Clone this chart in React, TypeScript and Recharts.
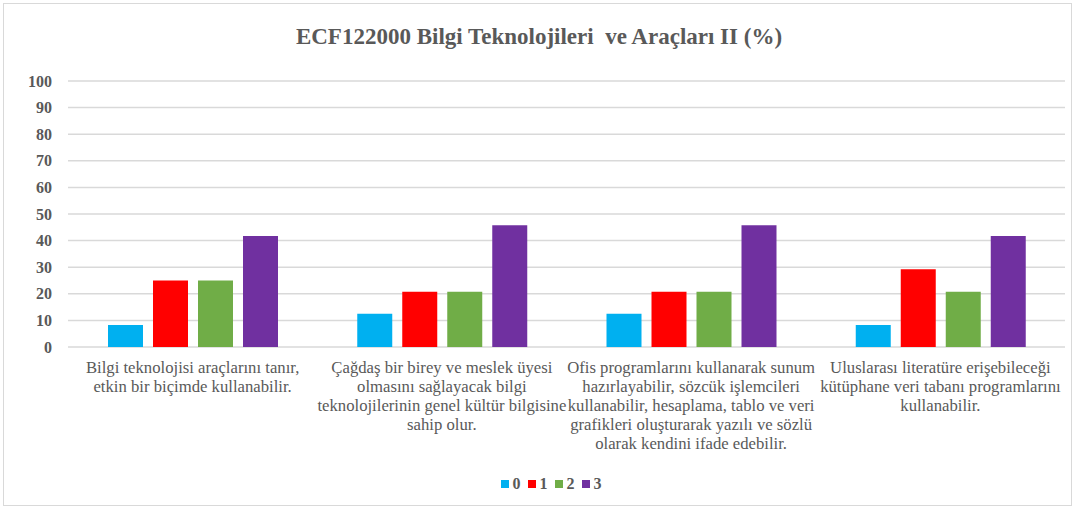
import { BarChart, Bar, XAxis, YAxis, CartesianGrid, Legend } from "recharts";

document.body.style.margin = "0";

const categories = [
  "Bilgi teknolojisi araçlarını tanır,\netkin bir biçimde kullanabilir.",
  "Çağdaş bir birey ve meslek üyesi\nolmasını sağlayacak bilgi\nteknolojilerinin genel kültür bilgisine\nsahip olur.",
  "Ofis programlarını kullanarak sunum\nhazırlayabilir, sözcük işlemcileri\nkullanabilir, hesaplama, tablo ve veri\ngrafikleri oluşturarak yazılı ve sözlü\nolarak kendini ifade edebilir.",
  "Uluslarası literatüre erişebileceği\nkütüphane veri tabanı programlarını\nkullanabilir.",
];
const series0 = [8.3, 12.5, 12.5, 8.3];
const series1 = [25, 20.8, 20.8, 29.2];
const series2 = [25, 20.8, 20.8, 20.8];
const series3 = [41.7, 45.8, 45.8, 41.7];
const yTicks = [0, 10, 20, 30, 40, 50, 60, 70, 80, 90, 100];

const seriesKeys = ["0", "1", "2", "3"];
const COLORS = ["#00b0f0", "#ff0000", "#70ad47", "#7030a0"];

const data = categories.map((name, i) => ({
  name,
  "0": series0[i],
  "1": series1[i],
  "2": series2[i],
  "3": series3[i],
}));

const FONT = "'Liberation Serif', 'Times New Roman', serif";
const TEXT = "#595959";

function CategoryTick(props: any) {
  const { x, y, payload } = props;
  const lines = String(payload.value).split("\n");
  return (
    <text
      x={x}
      y={y}
      textAnchor="middle"
      fill={TEXT}
      style={{ fontFamily: FONT, fontSize: 16.7 }}
    >
      {lines.map((l, i) => (
        <tspan key={i} x={x} dy={i === 0 ? 18 : 19}>
          {l}
        </tspan>
      ))}
    </text>
  );
}

function LegendContent() {
  return (
    <div style={{ display: "flex", justifyContent: "center", alignItems: "center", paddingLeft: 44 }}>
      {seriesKeys.map((k, i) => (
        <div key={k} style={{ display: "flex", alignItems: "center", marginRight: 7 }}>
          <span style={{ width: 8, height: 8, background: COLORS[i], display: "inline-block", marginRight: 4 }} />
          <span style={{ fontFamily: FONT, fontWeight: "bold", fontSize: 16, color: TEXT }}>{k}</span>
        </div>
      ))}
    </div>
  );
}

export default function App() {
  return (
    <div style={{ position: "relative", width: 1078, height: 511, background: "#fff" }}>
      <div
        style={{
          position: "absolute",
          left: 3,
          top: 3,
          width: 1069,
          height: 503,
          border: "1.5px solid #d9d9d9",
          boxSizing: "border-box",
        }}
      />
      <div
        style={{
          position: "absolute",
          top: 24,
          left: 0,
          width: 1078,
          textAlign: "center",
          fontFamily: FONT,
          fontWeight: "bold",
          fontSize: 23,
          color: TEXT,
        }}
      >
        ECF122000 Bilgi Teknolojileri&nbsp; ve Araçları II (%)
      </div>
      <BarChart
        width={1078}
        height={511}
        data={data}
        margin={{ top: 81, right: 13, left: 0, bottom: 6 }}
        barGap={10}
        barCategoryGap={40}
        style={{ position: "absolute", top: 0, left: 0 }}
      >
        <CartesianGrid vertical={false} stroke="#d9d9d9" strokeWidth={1.5} />
        <XAxis
          dataKey="name"
          axisLine={false}
          tickLine={false}
          interval={0}
          height={128}
          tick={<CategoryTick />}
        />
        <YAxis
          width={68}
          domain={[0, 100]}
          ticks={yTicks}
          axisLine={false}
          tickLine={false}
          tickSize={0}
          tickMargin={16}
          tick={{ fill: TEXT, style: { fontFamily: FONT }, fontWeight: "bold", fontSize: 16 }}
        />
        <Legend verticalAlign="bottom" height={30} content={<LegendContent />} />
        {seriesKeys.map((k, i) => (
          <Bar key={k} dataKey={k} fill={COLORS[i]} isAnimationActive={false} />
        ))}
      </BarChart>
    </div>
  );
}
